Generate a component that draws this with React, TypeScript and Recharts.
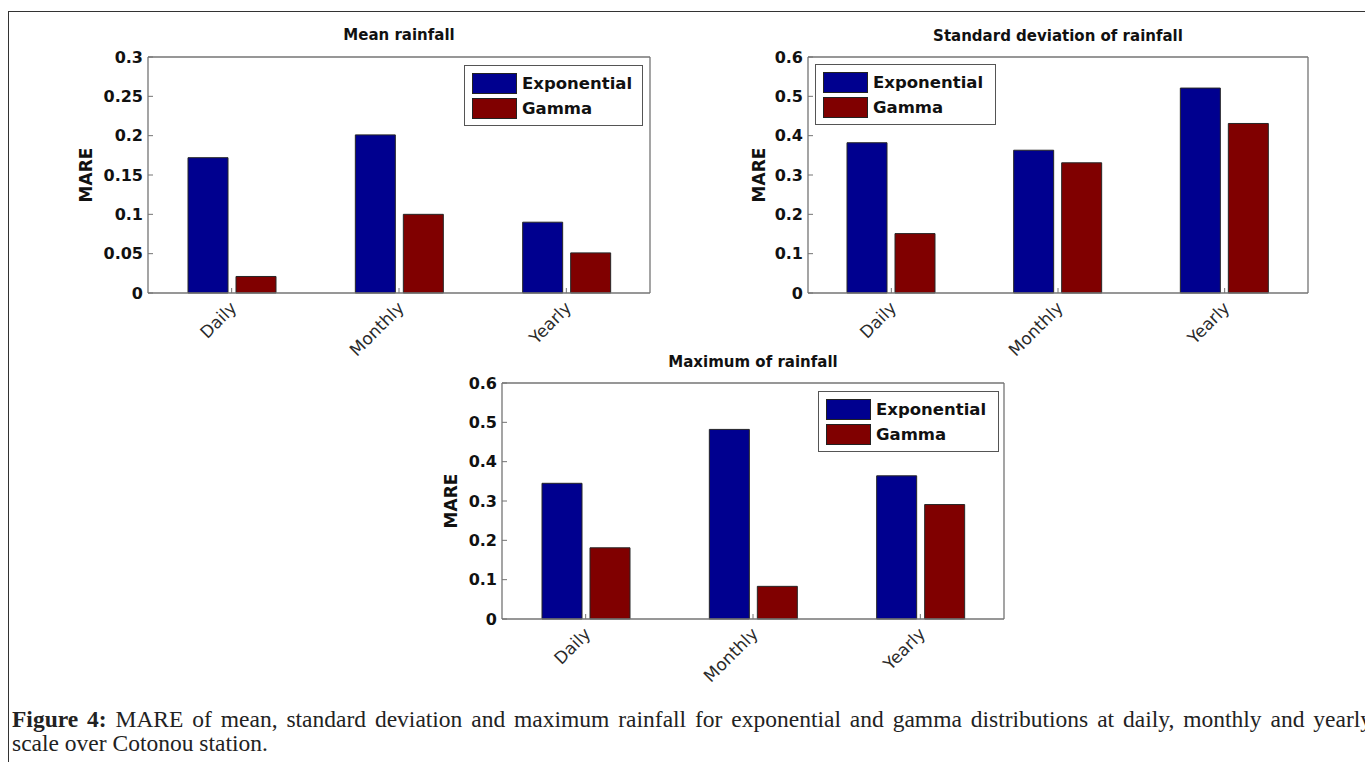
import React from 'react';
import { BarChart, Bar, XAxis, YAxis, Legend } from 'recharts';

const categories = ['Daily', 'Monthly', 'Yearly'];
const seriesNames = ['Exponential', 'Gamma'];

const meanExponential = [0.172, 0.201, 0.09];
const meanGamma = [0.021, 0.1, 0.051];
const sdExponential = [0.382, 0.363, 0.521];
const sdGamma = [0.151, 0.331, 0.431];
const maxExponential = [0.345, 0.482, 0.364];
const maxGamma = [0.181, 0.083, 0.291];

const meanTicks = [0, 0.05, 0.1, 0.15, 0.2, 0.25, 0.3];
const wideTicks = [0, 0.1, 0.2, 0.3, 0.4, 0.5, 0.6];

const titles = ['Mean rainfall', 'Standard deviation of rainfall', 'Maximum of rainfall'];
const yLabel = 'MARE';

const BLUE = '#00008f';
const RED = '#800000';
const AXIS = '#747474';
const FONT = '"DejaVu Sans", Verdana, sans-serif';
const XAXIS_H = 80;
const YAXIS_W = 60;

function XTick(props: any) {
  const { x, y, payload } = props;
  const ax = x + 6;
  const ay = y + 11;
  return (
    <text
      x={ax}
      y={ay}
      transform={`rotate(-45 ${ax} ${ay})`}
      textAnchor="end"
      fontFamily={FONT}
      fontSize={17}
      fill="#2a2a2a"
    >
      {payload.value}
    </text>
  );
}

function LegendBox(props: any) {
  const { payload, width } = props;
  return (
    <div
      style={{
        width,
        boxSizing: 'border-box',
        border: '1px solid #555',
        background: '#fff',
        padding: '5px 0 4px 7px',
      }}
    >
      {(payload || []).map((p: any) => (
        <div key={p.value} style={{ display: 'flex', alignItems: 'center', height: 25 }}>
          <span
            style={{
              display: 'inline-block',
              width: 45,
              height: 21,
              background: p.color,
              border: '1px solid #222',
              boxSizing: 'border-box',
              marginRight: 5,
            }}
          />
          <span
            style={{
              fontFamily: FONT,
              fontWeight: 'bold',
              fontSize: 16.5,
              color: '#111',
              lineHeight: '20px',
            }}
          >
            {p.value}
          </span>
        </div>
      ))}
    </div>
  );
}

type PanelProps = {
  box: { left: number; top: number; width: number; height: number };
  margin: { top: number; left: number; right: number; bottom: number };
  title: string;
  titleCenter: { x: number; y: number };
  exp: number[];
  gamma: number[];
  ticks: number[];
  max: number;
  legend: { left: number; top: number; width: number };
  labelX: number;
};

function Panel(p: PanelProps) {
  const data = categories.map((c, i) => ({ cat: c, exp: p.exp[i], gamma: p.gamma[i] }));
  // the top axis is 1px tall and the right axis 1px wide
  const plotTop = p.margin.top + 1;
  const plotH = p.box.height - plotTop - p.margin.bottom - XAXIS_H;
  const cy = plotTop + plotH / 2;
  return (
    <div style={{ position: 'absolute', left: p.box.left, top: p.box.top, width: p.box.width, height: p.box.height }}>
      <BarChart width={p.box.width} height={p.box.height} data={data} margin={p.margin} barGap={8} barSize={40}>
        <XAxis
          xAxisId="bottom"
          dataKey="cat"
          height={XAXIS_H}
          interval={0}
          tickSize={-5}
          tickMargin={10}
          tick={<XTick />}
          axisLine={{ stroke: AXIS, strokeWidth: 1.3 }}
          tickLine={{ stroke: AXIS, strokeWidth: 1 }}
        />
        <XAxis
          xAxisId="top"
          dataKey="cat"
          orientation="top"
          height={1}
          interval={0}
          tickSize={-5}
          tick={false}
          axisLine={{ stroke: AXIS, strokeWidth: 1.3 }}
          tickLine={{ stroke: AXIS, strokeWidth: 1 }}
        />
        <YAxis
          yAxisId="left"
          width={YAXIS_W}
          domain={[0, p.max]}
          ticks={p.ticks}
          interval={0}
          tickSize={-5}
          tickMargin={10}
          tick={{ fill: '#111', fontSize: 16, fontWeight: 'bold', fontFamily: FONT }}
          axisLine={{ stroke: AXIS, strokeWidth: 1.3 }}
          tickLine={{ stroke: AXIS, strokeWidth: 1 }}
          label={{
            value: yLabel,
            content: () => (
              <text
                x={p.labelX}
                y={cy}
                transform={`rotate(-90 ${p.labelX} ${cy})`}
                textAnchor="middle"
                dominantBaseline="central"
                fontFamily={FONT}
                fontWeight="bold"
                fontSize={17}
                fill="#111"
              >
                {yLabel}
              </text>
            ),
          }}
        />
        <YAxis
          yAxisId="right"
          orientation="right"
          width={1}
          domain={[0, p.max]}
          ticks={p.ticks}
          interval={0}
          tickSize={-5}
          tick={false}
          axisLine={{ stroke: AXIS, strokeWidth: 1.3 }}
          tickLine={{ stroke: AXIS, strokeWidth: 1 }}
        />
        <Legend
          layout="vertical"
          align="center"
          verticalAlign="middle"
          wrapperStyle={{ left: p.legend.left, top: p.legend.top, width: p.legend.width, height: 'auto' }}
          content={(lp: any) => <LegendBox payload={lp.payload} width={p.legend.width} />}
        />
        <Bar
          xAxisId="bottom"
          yAxisId="left"
          dataKey="exp"
          name={seriesNames[0]}
          fill={BLUE}
          stroke="#262626"
          strokeWidth={1}
          isAnimationActive={false}
        />
        <Bar
          xAxisId="bottom"
          yAxisId="left"
          dataKey="gamma"
          name={seriesNames[1]}
          fill={RED}
          stroke="#262626"
          strokeWidth={1}
          isAnimationActive={false}
        />
      </BarChart>
      <div
        style={{
          position: 'absolute',
          left: p.titleCenter.x - 250,
          width: 500,
          top: p.titleCenter.y - 10,
          lineHeight: '20px',
          textAlign: 'center',
          fontFamily: FONT,
          fontWeight: 'bold',
          fontSize: 15,
          color: '#111',
          pointerEvents: 'none',
        }}
      >
        {p.title}
      </div>
    </div>
  );
}

export default function App() {
  return (
    <div
      style={{
        position: 'fixed',
        left: 0,
        top: 0,
        width: 1365,
        height: 762,
        overflow: 'hidden',
        background: '#fff',
      }}
    >
      <div
        style={{
          position: 'absolute',
          left: 8,
          top: 11,
          width: 1357,
          height: 751,
          borderLeft: '1.5px solid #333',
          borderTop: '1.5px solid #333',
          boxSizing: 'border-box',
        }}
      />
      <Panel
        box={{ left: 0, top: 0, width: 700, height: 390 }}
        margin={{ top: 56, left: 88, right: 49, bottom: 17 }}
        title={titles[0]}
        titleCenter={{ x: 399, y: 35 }}
        exp={meanExponential}
        gamma={meanGamma}
        ticks={meanTicks}
        max={0.3}
        legend={{ left: 464, top: 65, width: 179 }}
        labelX={86}
      />
      <Panel
        box={{ left: 700, top: 0, width: 665, height: 390 }}
        margin={{ top: 56, left: 48, right: 56, bottom: 17 }}
        title={titles[1]}
        titleCenter={{ x: 358, y: 36 }}
        exp={sdExponential}
        gamma={sdGamma}
        ticks={wideTicks}
        max={0.6}
        legend={{ left: 115, top: 64, width: 181 }}
        labelX={59}
      />
      <Panel
        box={{ left: 380, top: 330, width: 680, height: 380 }}
        margin={{ top: 52, left: 62, right: 55, bottom: 11 }}
        title={titles[2]}
        titleCenter={{ x: 373, y: 32 }}
        exp={maxExponential}
        gamma={maxGamma}
        ticks={wideTicks}
        max={0.6}
        legend={{ left: 438, top: 61, width: 181 }}
        labelX={71}
      />
      <div
        style={{
          position: 'absolute',
          left: 12,
          top: 707,
          width: 1360,
          fontFamily: '"Liberation Serif", "Times New Roman", serif',
          fontSize: 23.5,
          lineHeight: '24px',
          color: '#222',
        }}
      >
        <div style={{ textAlign: 'justify', textAlignLast: 'justify' as any, whiteSpace: 'nowrap' }}>
          <b>Figure 4:</b> MARE of mean, standard deviation and maximum rainfall for exponential and gamma
          distributions at daily, monthly and yearly
        </div>
        <div>scale over Cotonou station.</div>
      </div>
    </div>
  );
}
